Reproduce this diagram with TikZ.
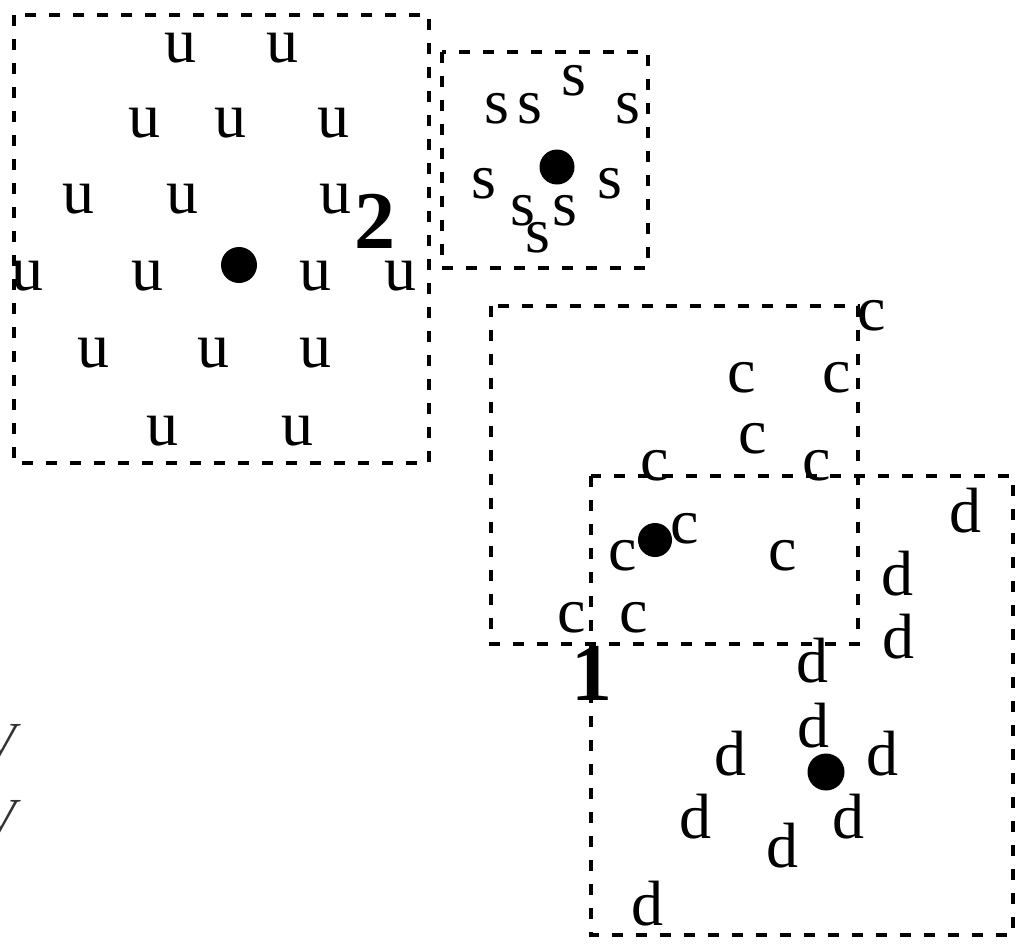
\documentclass[tikz,border=0pt]{standalone}
\usepackage{fontspec}
\setmainfont{Liberation Serif}
\newcommand\lettersize{\fontsize{64}{64}\selectfont}
\newcommand\numsize{\fontsize{82}{82}\selectfont\bfseries}
\newcommand\edgevsize{\fontsize{52}{52}\selectfont\itshape}
\begin{document}
\begin{tikzpicture}[x=1pt,y=-1pt,
  dbox/.style={draw=black, line width=4pt, dash pattern=on 11pt off 13pt},
  lettr/.style={anchor=base, inner sep=0pt, font=\lettersize},
  numlab/.style={anchor=base, inner sep=0pt, font=\numsize},
  vlab/.style={anchor=base east, inner sep=0pt, font=\edgevsize, text=black!80},
  centre/.style={circle, fill=black, inner sep=0pt, minimum size=36pt}]
\useasboundingbox (0,0) rectangle (1018,943);
% dashed boxes
\draw[dbox] (14,15) rectangle (429,463);
\draw[dbox] (442,52) rectangle (648,268);
\draw[dbox] (491,306) rectangle (858,644);
\draw[dbox] (591,476) rectangle (1013,935);
% centres
\node[centre] (cu) at (239,265) {};
\node[centre, minimum size=35pt] (cs) at (557,167) {};
\node[centre, minimum size=34pt] (cc) at (655,540) {};
\node[centre, minimum size=37pt] (cd) at (826,772) {};
% u points
\foreach \px/\py [count=\i] in {180/62, 282/62, 144/137, 230/137, 333/137,
   78/213, 182/213, 335/213, 27/290, 147/290, 315/290, 400/290,
   93/367, 213/367, 315/367, 162/445, 297/445}
  \node[lettr] (u\i) at (\px,\py) {u};
% s points
\foreach \px/\py [count=\i] in {497/123, 530/123, 574/95, 628/123, 484/198,
   610/198, 523/225, 565/225, 538/252}
  \node[lettr] (s\i) at (\px,\py) {s};
% c points
\foreach \px/\py [count=\i] in {872/330, 742/392, 837/392, 753/453, 655/480,
   817/480, 685/543, 623/570, 783/570, 572/632, 634/632}
  \node[lettr] (c\i) at (\px,\py) {c};
% d points
\foreach \px/\py [count=\i] in {965/532, 897/595, 898/658, 812/682, 813/747,
   882/775, 730/775, 695/838, 848/838, 782/867, 647/925}
  \node[lettr] (d\i) at (\px,\py) {d};
% cluster numbers
\node[numlab] (two) at (375,248) {2};
\node[numlab] (one) at (592,700) {1};
% partial letters at left edge
\node[vlab] (v1) at (16,758) {V};
\node[vlab] (v2) at (16,834) {V};
\end{tikzpicture}
\end{document}
